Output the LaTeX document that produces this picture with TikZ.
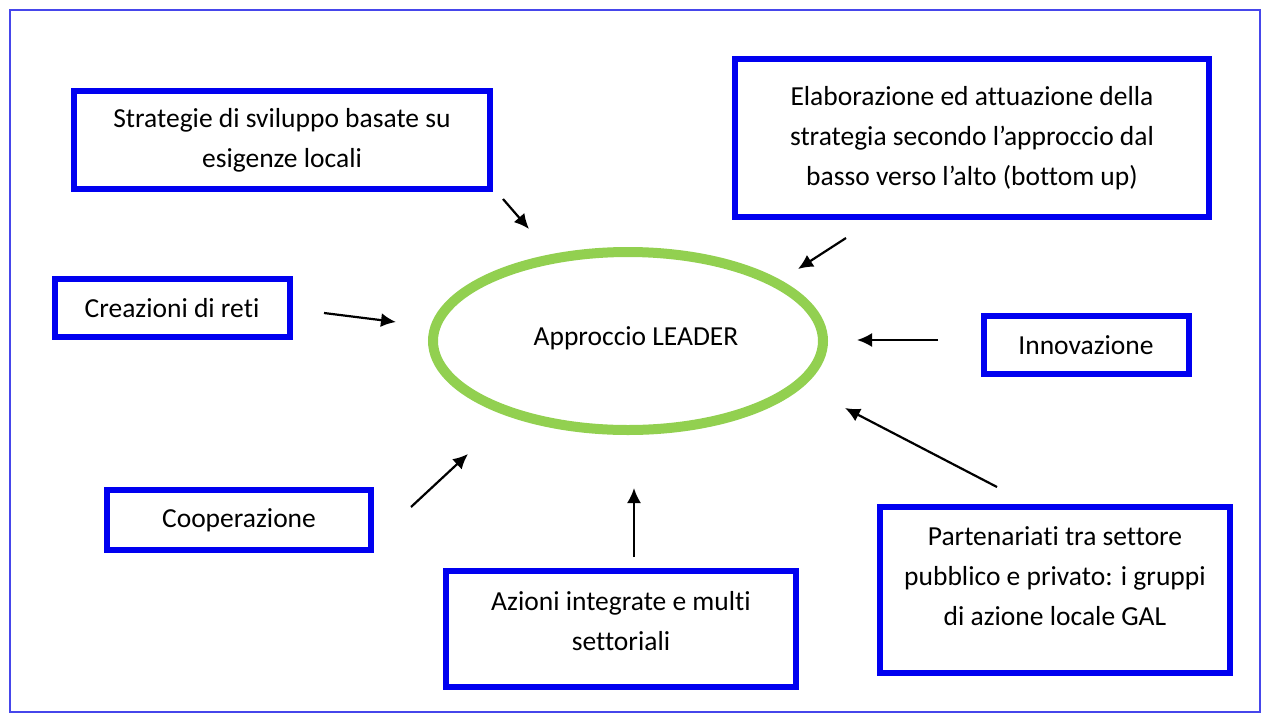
\documentclass[tikz,border=0pt]{standalone}
\usepackage{fontspec}
\setmainfont{Carlito}[Ligatures=NoCommon]
\usetikzlibrary{arrows.meta,shapes}
\definecolor{boxblue}{RGB}{0,0,240}
\definecolor{frameblue}{RGB}{70,70,235}
\definecolor{leadgreen}{RGB}{146,208,80}
\tikzset{%
  >={Latex[width=14pt,length=15pt]},
  % Specifications for style of nodes:
            base/.style = {rectangle, draw=boxblue, line width=6pt,
                           inner sep=0pt, align=center,
                           font=\fontsize{27.5}{40}\selectfont},
          action/.style = {base},
          leader/.style = {ellipse, draw=leadgreen, line width=10pt,
                           minimum width=390pt, minimum height=178pt,
                           font=\fontsize{27.5}{40}\selectfont},
}

\begin{document}
\begin{tikzpicture}[x=1pt, y=-1pt]
\useasboundingbox (0,0) rectangle (1267,713);
\draw[frameblue, line width=2pt] (10,10) rectangle (1260,712);

\node (Leader)  [leader, text depth=10pt] at (628,341) {\hspace*{16pt}Approccio LEADER};

\node (Strat)   [action, minimum width=416pt, minimum height=98pt]
                at (282,140) {Strategie di sviluppo basate su\\esigenze locali};

\node (Elab)    [action, minimum width=474pt, minimum height=158pt]
                at (972,138) {Elaborazione ed attuazione della\\strategia secondo l'approccio dal\\basso verso l'alto (bottom up)};

\node (Reti)    [action, minimum width=235pt, minimum height=58pt]
                at (172,308) {Creazioni di reti};

\node (Innov)   [action, minimum width=205pt, minimum height=58pt]
                at (1086,345) {Innovazione};

\node (Coop)    [action, minimum width=264pt, minimum height=60pt]
                at (239,520) {Cooperazione};

\node (Azioni)  [action, minimum width=350pt, minimum height=116pt, text depth=16pt]
                at (621,629) {Azioni integrate e multi\\settoriali};

\node (Partner) [action, minimum width=350pt, minimum height=166pt, text depth=28pt]
                at (1055,590) {Partenariati tra settore\\pubblico e privato: i gruppi\\di azione locale GAL};

% free ends of the arrows
\coordinate (StratS)   at (503,199);  \coordinate (StratT)   at (529,229);
\coordinate (ElabS)    at (846,238);  \coordinate (ElabT)    at (798,269);
\coordinate (RetiS)    at (324,313);  \coordinate (RetiT)    at (396,322);
\coordinate (InnovS)   at (938,340);  \coordinate (InnovT)   at (857,340);
\coordinate (PartnerS) at (997,487);  \coordinate (PartnerT) at (845,408);
\coordinate (CoopS)    at (411,507);  \coordinate (CoopT)    at (468,454);
\coordinate (AzioniS)  at (634,557);  \coordinate (AzioniT)  at (634,488);

\draw[->, line width=2.2pt] (StratS) -- (StratT);
\draw[->, line width=2.2pt] (ElabS) -- (ElabT);
\draw[->, line width=2.2pt] (RetiS) -- (RetiT);
\draw[->, line width=2.2pt] (InnovS) -- (InnovT);
\draw[->, line width=2.2pt] (PartnerS) -- (PartnerT);
\draw[->, line width=2.2pt] (CoopS) -- (CoopT);
\draw[->, line width=2.2pt] (AzioniS) -- (AzioniT);
\end{tikzpicture}
\end{document}
